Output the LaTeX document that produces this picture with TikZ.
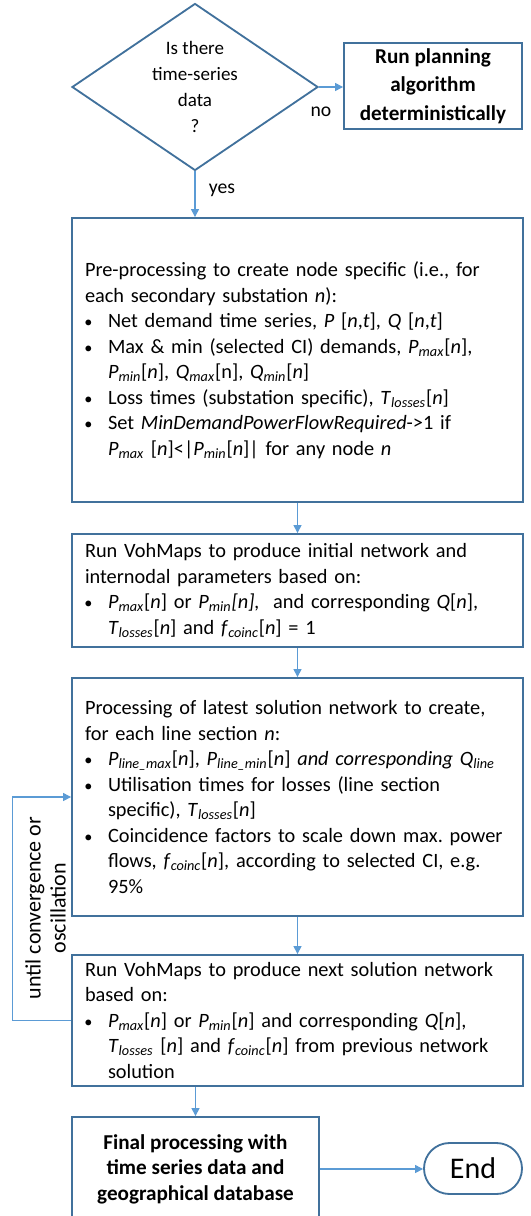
\documentclass[tikz,border=0pt]{standalone}
\usepackage{fontspec}
\setmainfont{Carlito}
\usetikzlibrary{arrows.meta,positioning,shapes.geometric,calc}

\definecolor{boxblue}{RGB}{65,113,156}
\definecolor{flowblue}{RGB}{91,155,213}

% italic symbol with italic subscript, e.g. P_max
\newcommand{\vsub}[2]{\textit{#1}\textsubscript{\textit{#2}}}
% bullet line with hanging indent (use \newline inside, not \\)
\newcommand{\bitem}{\par\noindent\hangindent=13.8pt\hangafter=1\makebox[13.8pt][l]{\hspace{-0.4pt}\scalebox{0.8}{\textbullet}}}

\begin{document}
\begin{tikzpicture}[x=0.6pt, y=-0.6pt,
    procbox/.style={rectangle, draw=boxblue, line width=1.1pt, text width=255pt,
                    inner xsep=7.8pt, inner ysep=0pt, align=left,
                    font=\fontsize{12.2}{15.3}\selectfont\frenchspacing},
    boldbox/.style={rectangle, draw=boxblue, line width=1.1pt, align=center,
                    inner sep=0pt, font=\fontsize{12.7}{17.2}\selectfont\bfseries},
    decision/.style={diamond, draw=boxblue, line width=1.1pt, aspect=1.47,
                     inner sep=0pt, minimum width=147.6pt, minimum height=100.2pt,
                     align=center, font=\fontsize{11.4}{15.6}\selectfont},
    terminal/.style={rectangle, rounded corners=15.3pt, draw=boxblue, line width=1.1pt,
                     minimum width=58.8pt, minimum height=30.6pt,
                     font=\fontsize{18}{20}\selectfont},
    arrow/.style={-{Triangle[length=4.8pt,width=4.8pt]}, flowblue, line width=0.7pt},
    note/.style={font=\fontsize{11.8}{13.5}\selectfont}
]
    \clip (0,0) rectangle (530,1216);

    \node[decision] (dec) at (195,87) {Is there\\time-series\\data\\?};
    \node[boldbox, minimum width=106.8pt, minimum height=51.6pt] (run) at (433,86)
        {Run planning\\algorithm\\deterministically};

    \node[procbox, minimum height=170.4pt] (pre) at (297.5,360) {%
        Pre-processing to create node specific (i.e., for\\
        each secondary substation \textit{n}):
        \bitem Net demand time series, \textit{P} [\textit{n},\textit{t}], \textit{Q} [\textit{n},\textit{t}]
        \bitem Max \& min (selected CI) demands, \vsub{P}{max}[\textit{n}],\newline
               \vsub{P}{min}[\textit{n}], \vsub{Q}{max}[n], \vsub{Q}{min}[\textit{n}]
        \bitem Loss times (substation specific), \vsub{T}{losses}[\textit{n}]
        \bitem Set \textit{MinDemandPowerFlowRequired}->1 if\newline
               \vsub{P}{max} [\textit{n}]<|\vsub{P}{min}[\textit{n}]| for any node \textit{n}\par};

    \node[procbox, minimum height=67.8pt] (init) at (297.5,590.5) {%
        Run VohMaps to produce initial network and\\
        internodal parameters based on:
        \bitem \vsub{P}{max}[\textit{n}] or \vsub{P}{min}\textit{[n],}\ \ and corresponding \textit{Q}[\textit{n}],\newline
               \vsub{T}{losses}[\textit{n}] and \vsub{f}{coinc}[\textit{n}] = 1\par};

    \node[procbox, minimum height=142.8pt] (proc) at (297.5,797) {%
        Processing of latest solution network to create,\\
        for each line section \textit{n}:
        \bitem \vsub{P}{line\_max}[\textit{n}], \vsub{P}{line\_min}[\textit{n}] \textit{and corresponding} \vsub{Q}{line}
        \bitem Utilisation times for losses (line section\newline
               specific), \vsub{T}{losses}[\textit{n}]
        \bitem Coincidence factors to scale down max. power\newline
               flows, \vsub{f}{coinc}[\textit{n}], according to selected CI, e.g.\newline
               95\%\par};

    \node[procbox, minimum height=78.6pt] (next) at (297.5,1020.5) {%
        Run VohMaps to produce next solution network\\
        based on:
        \bitem \vsub{P}{max}[\textit{n}] or \vsub{P}{min}[\textit{n}] and corresponding \textit{Q}[\textit{n}],\newline
               \vsub{T}{losses} [\textit{n}] and \vsub{f}{coinc}[\textit{n}] from previous network\newline
               solution\par};

    \node[boldbox, minimum width=148.2pt, minimum height=62.4pt,
          font=\fontsize{12.7}{15.3}\selectfont\bfseries] (final) at (195.5,1169)
        {Final processing with\\time series data and\\geographical database};
    \node[terminal] (stop) at (473,1168.5) {End};

    % flow
    \draw[arrow] (dec.east) -- (dec.east -| run.west);
    \draw[arrow] (dec.south) -- (dec.south |- pre.north);
    \draw[arrow] (pre) -- (init);
    \draw[arrow] (init) -- (proc);
    \draw[arrow] (proc) -- (next);
    \draw[arrow] (final.north |- next.south) -- (final.north);
    \draw[arrow] (final.east) -- (final.east -| stop.west);

    % iteration loop
    \draw[arrow] (next.west) -- ++(-59,0) |- (proc.west);

    \node[note] (nolbl)  at (321,112) {no};
    \node[note] (yeslbl) at (222,190) {yes};
    \node[note, rotate=90, align=center, font=\fontsize{13.2}{15}\selectfont]
        (looplbl) at (45.5,908) {until convergence or\\oscillation};
\end{tikzpicture}
\end{document}
